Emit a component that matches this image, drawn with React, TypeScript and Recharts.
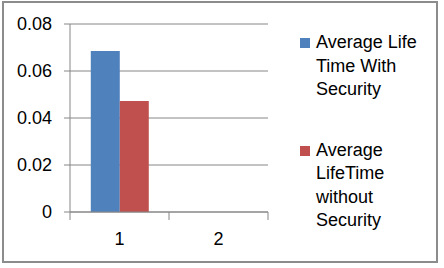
import { Bar, BarChart, CartesianGrid, Legend, XAxis, YAxis } from "recharts";

const CATEGORIES = ["1", "2"];
const WITH_SECURITY = [0.0685, 0];
const WITHOUT_SECURITY = [0.0472, 0];
const SERIES_NAMES = ["Average Life Time With Security", "Average LifeTime without Security"];
const SERIES_COLORS = ["#4F81BD", "#C0504D"];
const Y_TICKS = [0, 0.02, 0.04, 0.06, 0.08];
const BOUNDARY_TICKS = [0, 1, 2];

const data = CATEGORIES.map((cat, i) => ({
	cat,
	idx: i,
	withSec: WITH_SECURITY[i],
	withoutSec: WITHOUT_SECURITY[i],
}));

const FONT = "'Liberation Sans', Arial, sans-serif";
const AXIS_GRAY = "#868686";

function LegendBox() {
	return (
		<div style={{ fontFamily: FONT, fontSize: 18, lineHeight: "23.5px", color: "#000", textAlign: "left" }}>
			{SERIES_NAMES.map((name, i) => (
				<div key={name} style={{ display: "flex", alignItems: "flex-start", marginTop: i === 0 ? 0 : 37 }}>
					<div style={{ width: 10, height: 10, background: SERIES_COLORS[i], marginTop: 7, marginRight: 6, flexShrink: 0 }} />
					<div style={{ width: 108 }}>{name}</div>
				</div>
			))}
		</div>
	);
}

export default function App() {
	return (
		<div style={{ position: "absolute", left: 0, top: 0, width: 444, height: 268, background: "#fff" }}>
			<div
				style={{
					position: "absolute",
					left: 2,
					top: 1,
					width: 432,
					height: 258,
					border: "2px solid #8c8c8c",
				}}
			/>
			<BarChart
				width={444}
				height={268}
				data={data}
				margin={{ top: 24, right: 176, left: 0, bottom: 20 }}
				barCategoryGap="21%"
				barGap={0}
			>
				<CartesianGrid vertical={false} stroke={AXIS_GRAY} strokeWidth={1} />
				<XAxis
					xAxisId="bounds"
					dataKey="idx"
					type="number"
					domain={[0, 2]}
					ticks={BOUNDARY_TICKS}
					height={8}
					tickSize={8}
					tickFormatter={() => ""}
					stroke={AXIS_GRAY}
				/>
				<XAxis
					xAxisId="cats"
					dataKey="cat"
					height={28}
					axisLine={false}
					tickLine={false}
					tickMargin={6}
					tick={{ fontSize: 18, fill: "#000", fontFamily: FONT }}
				/>
				<YAxis
					width={70}
					domain={[0, 0.08]}
					ticks={Y_TICKS}
					tickSize={6}
					tickMargin={12}
					stroke={AXIS_GRAY}
					tick={{ fontSize: 18, fill: "#000", fontFamily: FONT }}
					tickFormatter={(v: number) => (v === 0 ? "0" : v.toFixed(2))}
				/>
				<Legend
					layout="horizontal"
					align="center"
					verticalAlign="middle"
					content={() => <LegendBox />}
					wrapperStyle={{ left: 300, top: 31, width: 130 }}
				/>
				<Bar xAxisId="cats" dataKey="withSec" name={SERIES_NAMES[0]} fill={SERIES_COLORS[0]} isAnimationActive={false} />
				<Bar xAxisId="cats" dataKey="withoutSec" name={SERIES_NAMES[1]} fill={SERIES_COLORS[1]} isAnimationActive={false} />
			</BarChart>
		</div>
	);
}
